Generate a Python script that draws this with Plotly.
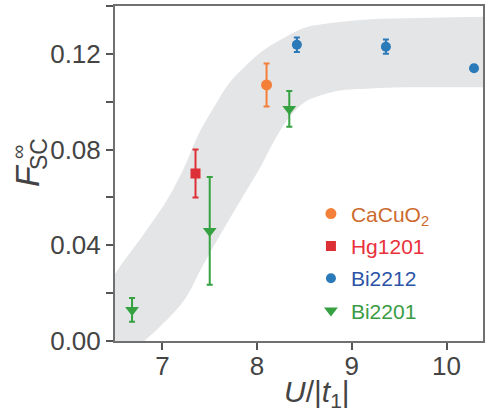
import plotly.graph_objects as go

# Measured superconducting order F_SC^inf versus U/|t1| for four cuprate families
cacuo2_u = [8.10]
cacuo2_f = [0.107]
cacuo2_err = [0.009]

hg1201_u = [7.35]
hg1201_f = [0.070]
hg1201_err = [0.010]

bi2212_u = [8.42, 9.36, 10.29]
bi2212_f = [0.1238, 0.1230, 0.1140]
bi2212_err = [0.003, 0.003, 0.0012]

bi2201_u = [6.68, 7.50, 8.34]
bi2201_f = [0.013, 0.046, 0.097]
bi2201_err = [0.005, 0.0225, 0.0075]

# Shaded guide band: upper and lower edges
band_upper_u = [6.5, 6.55, 6.81, 7.05, 7.23, 7.39, 7.58, 7.7, 7.84, 8.05, 8.3, 8.51, 8.8, 9.2, 9.7, 10.4]
band_upper_f = [0.028, 0.031, 0.045, 0.059, 0.0725, 0.087, 0.100, 0.1075, 0.1135, 0.121, 0.127, 0.131, 0.133, 0.1345, 0.135, 0.1355]
band_lower_u = [6.5, 6.81, 6.95, 7.23, 7.42, 7.62, 7.83, 8.04, 8.2, 8.35, 8.51, 8.7, 8.86, 9.2, 9.6, 10.4]
band_lower_f = [-0.012, 0.0, 0.005, 0.017, 0.031, 0.045, 0.059, 0.073, 0.085, 0.094, 0.100, 0.103, 0.1046, 0.1055, 0.106, 0.106]

x_ticks = [7, 8, 9, 10]
y_ticks = [0.00, 0.04, 0.08, 0.12]
y_tick_labels = ["0.00", "0.04", "0.08", "0.12"]

FONT = "Liberation Sans, Arial, sans-serif"
BAND = "#e4e5e7"

fig = go.Figure()

fig.add_trace(go.Scatter(
    x=band_lower_u, y=band_lower_f, mode="lines",
    line=dict(width=0, shape="spline", color=BAND),
    showlegend=False, hoverinfo="skip"))
fig.add_trace(go.Scatter(
    x=band_upper_u, y=band_upper_f, mode="lines",
    line=dict(width=0, shape="spline", color=BAND),
    fill="tonexty", fillcolor=BAND,
    showlegend=False, hoverinfo="skip"))


def series(u, f, err, name, color, text_color, symbol, size, group):
    return go.Scatter(
        x=u, y=f, mode="markers",
        name=f"<span style='color:{text_color}'>{name}</span>",
        legendgroup=group,
        marker=dict(symbol=symbol, size=size, color=color, line=dict(width=0)),
        error_y=dict(type="data", array=err, visible=True,
                     color=color, thickness=2, width=3),
    )


fig.add_trace(series(cacuo2_u, cacuo2_f, cacuo2_err, "CaCuO<sub>2</sub>",
                     "#f47f38", "#cc6a2c", "circle", 11, "a"))
fig.add_trace(series(hg1201_u, hg1201_f, hg1201_err, "Hg1201",
                     "#dc2f36", "#e8313b", "square", 10, "b"))
fig.add_trace(series(bi2212_u, bi2212_f, bi2212_err, "Bi2212",
                     "#2a79b8", "#2c54a6", "circle", 10, "c"))
fig.add_trace(series(bi2201_u, bi2201_f, bi2201_err, "Bi2201",
                     "#35a141", "#3a9b44", "triangle-down", 12, "d"))

axis_common = dict(
    showline=True, linecolor="#707070", linewidth=2, mirror=True,
    ticks="outside", ticklen=7, tickwidth=1.5, tickcolor="#555555",
    showgrid=False, zeroline=False,
    tickfont=dict(family=FONT, size=26, color="#444444"),
)

fig.update_xaxes(range=[6.5, 10.385], tickvals=x_ticks,
                 ticktext=[str(v) for v in x_ticks],
                 ticklabelstandoff=-6, **axis_common)
fig.update_yaxes(range=[0, 0.14], tickvals=y_ticks, ticktext=y_tick_labels,
                 minor=dict(dtick=0.02, tick0=0, ticks="outside", ticklen=7,
                            tickwidth=1.5, tickcolor="#555555", showgrid=False),
                 **axis_common)

title_color = "#444444"
annotations = [
    dict(text="<i>U</i>/|<i>t</i><sub>1</sub>|", xref="paper", yref="paper",
         x=(318 - 115) / 370, y=(341 - 394) / 336, xanchor="center", yanchor="middle",
         showarrow=False, font=dict(family=FONT, size=30, color=title_color)),
    dict(text="<i>F</i>", xref="paper", yref="paper",
         x=(27 - 115) / 370, y=(341 - 175) / 336, xanchor="center", yanchor="middle",
         textangle=-90, showarrow=False,
         font=dict(family=FONT, size=34, color=title_color)),
    dict(text="SC", xref="paper", yref="paper",
         x=(38 - 115) / 370, y=(341 - 153) / 336, xanchor="center", yanchor="middle",
         textangle=-90, showarrow=False,
         font=dict(family=FONT, size=23, color=title_color)),
    dict(text="∞", xref="paper", yref="paper",
         x=(17 - 115) / 370, y=(341 - 152) / 336, xanchor="center", yanchor="middle",
         textangle=-90, showarrow=False,
         font=dict(family=FONT, size=20, color=title_color)),
]

fig.update_layout(
    width=489, height=414,
    margin=dict(l=115, r=4, t=5, b=73),
    paper_bgcolor="white", plot_bgcolor="white",
    showlegend=True,
    legend=dict(x=(312 - 115) / 370, y=(341 - 193) / 336,
                xanchor="left", yanchor="top",
                bgcolor="rgba(0,0,0,0)", borderwidth=0,
                traceorder="grouped", tracegroupgap=2,
                font=dict(family=FONT, size=21)),
    annotations=annotations,
)

fig.write_html("out.html")
